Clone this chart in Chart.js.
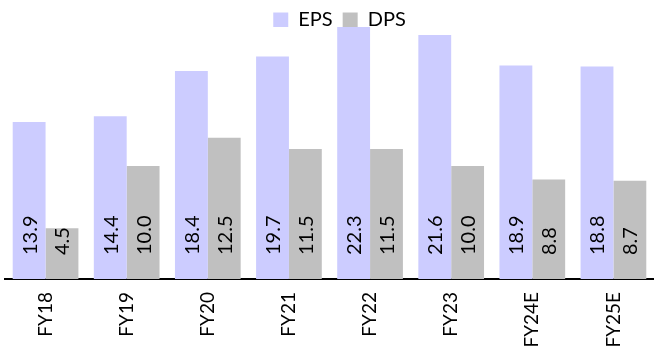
<!DOCTYPE html>
<html>
<head>
<meta charset="utf-8">
<script src="https://cdn.jsdelivr.net/npm/chart.js@4"></script>
<style>
  html, body { margin: 0; padding: 0; background: #fff; overflow: hidden; }
  #wrap { width: 654px; height: 355px; position: relative; }
</style>
</head>
<body>
<div id="wrap"><canvas id="chart"></canvas></div>
<script>
const years = ['FY18', 'FY19', 'FY20', 'FY21', 'FY22', 'FY23', 'FY24E', 'FY25E'];
const eps = [13.9, 14.4, 18.4, 19.7, 22.3, 21.6, 18.9, 18.8];
const dps = [4.5, 10.0, 12.5, 11.5, 11.5, 10.0, 8.8, 8.7];

const FONT = 'Lato, "Open Sans", sans-serif';

// Values written vertically at the base of each bar
const baseLabels = {
  id: 'baseLabels',
  afterDatasetsDraw(chart) {
    const ctx = chart.ctx;
    ctx.save();
    ctx.font = '20px ' + FONT;
    ctx.fillStyle = '#000';
    ctx.textAlign = 'left';
    ctx.textBaseline = 'middle';
    chart.data.datasets.forEach((ds, i) => {
      const meta = chart.getDatasetMeta(i);
      meta.data.forEach((bar, j) => {
        ctx.save();
        ctx.translate(bar.x, bar.base - 24);
        ctx.rotate(-Math.PI / 2);
        ctx.fillText(ds.data[j].toFixed(1), 0, 1);
        ctx.restore();
      });
    });
    ctx.restore();
  }
};

// Let the tallest bar run up beside the legend, and nudge the legend right
const legendTweak = {
  id: 'legendTweak',
  beforeInit(chart) {
    const fit = chart.legend.fit;
    chart.legend.fit = function () {
      fit.call(this);
      this.height = 27;
    };
  },
  afterLayout(chart) {
    chart.legend.left += 20;
  }
};

new Chart(document.getElementById('chart'), {
  type: 'bar',
  data: {
    labels: years,
    datasets: [
      { label: 'EPS', data: eps, backgroundColor: '#CCCCFF' },
      { label: 'DPS', data: dps, backgroundColor: '#C0C0C0' },
    ],
  },
  options: {
    responsive: true,
    maintainAspectRatio: false,
    animation: false,
    layout: { padding: { left: 5, right: 0, top: 0, bottom: 0 } },
    datasets: { bar: { categoryPercentage: 0.81, barPercentage: 1 } },
    plugins: {
      legend: {
        position: 'top',
        labels: { font: { family: FONT, size: 20 }, color: '#000', boxWidth: 15, boxHeight: 15, padding: 10 },
      },
      tooltip: { enabled: false },
    },
    scales: {
      x: {
        grid: { display: false, drawTicks: false },
        border: { display: true, color: '#000', width: 2 },
        ticks: { color: '#000', font: { family: FONT, size: 19 }, minRotation: 90, maxRotation: 90, padding: 13 },
        afterFit(scale) { scale.height = 76; },
      },
      y: {
        display: false,
        min: 0,
        max: 22.3,
      },
    },
  },
  plugins: [baseLabels, legendTweak],
});
</script>
</body>
</html>
